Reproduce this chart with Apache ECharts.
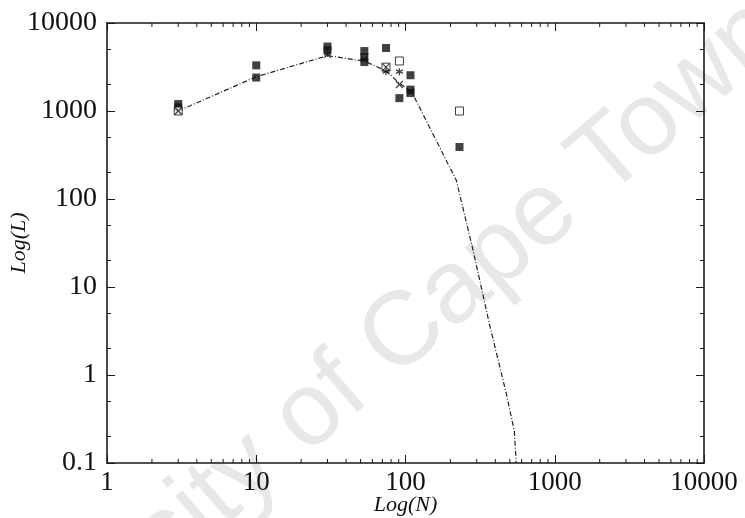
<!DOCTYPE html>
<html><head><meta charset="utf-8">
<script src="https://cdn.jsdelivr.net/npm/echarts@6/dist/echarts.min.js"></script>
<style>html,body{margin:0;padding:0;background:#fff}#c{width:745px;height:518px}</style>
</head><body><div id="c"></div>
<script>
// Data (N, L)
const modelLine = [[3,1000],[10,2450],[30,4250],[53,3700],[74,2850],[91,2070],[110,1650],[219,163],[281,28],[365,3.8],[474,0.61],[536,0.23],[552,0.1]];
const filledSquares = [[3,1200],[3,1100],[10,3300],[10,2400],[30,5400],[30,4900],[53,4800],[53,4100],[53,3600],[74,5200],[91,1400],[108,2550],[108,1750],[108,1600],[230,390]];
const openSquares = [[3,1000],[74,3150],[91,3700],[230,1000]];
const crosses = [[3,1000],[30,4400],[53,3900],[74,3150],[91,2000],[108,1650]];
const stars = [[30,4500],[74,2800],[91,2800]];
const xMinorTicks = [2,3,4,5,6,7,8,9,20,30,40,50,60,70,80,90,200,300,400,500,600,700,800,900,2000,3000,4000,5000,6000,7000,8000,9000];
const yMinorTicks = [0.2,0.5,2,5,20,50,200,500,2000,5000];
const xTickLabels = ['1','10','100','1000','10000'];
const yTickLabels = ['0.1','1','10','100','1000','10000'];

const serif = '"Liberation Serif","Times New Roman",serif';
const axisColor = '#1a1a1a';
const chart = echarts.init(document.getElementById('c'));

function fmt(v){ return String(+(+v).toPrecision(3)); }

function tickRenderer(isX){
  return function(params, api){
    const cs = params.coordSys;
    const len = 4;
    const v = api.value(isX ? 0 : 1);
    const style = {stroke: axisColor, lineWidth: 1};
    if (isX){
      const x = api.coord([v, 1])[0];
      return {type:'group', children:[
        {type:'line', shape:{x1:x,y1:cs.y+cs.height,x2:x,y2:cs.y+cs.height-len}, style},
        {type:'line', shape:{x1:x,y1:cs.y,x2:x,y2:cs.y+len}, style}
      ]};
    } else {
      const y = api.coord([1, v])[1];
      return {type:'group', children:[
        {type:'line', shape:{x1:cs.x,y1:y,x2:cs.x+len,y2:y}, style},
        {type:'line', shape:{x1:cs.x+cs.width,y1:y,x2:cs.x+cs.width-len,y2:y}, style}
      ]};
    }
  };
}

const crossPath = 'path://M0,0L10,10M10,0L0,10';
const starPath = 'path://M5,0L5,10M0.7,2.5L9.3,7.5M0.7,7.5L9.3,2.5';

const baseAxis = {
  type:'log', logBase:10,
  axisLine:{show:true, lineStyle:{color:axisColor, width:1.6}},
  axisTick:{show:true, inside:true, length:8, lineStyle:{color:axisColor, width:1}},
  splitLine:{show:false}
};

chart.setOption({
  animation:false,
  backgroundColor:'#fff',
  graphic:[{
    type:'text', z:-10, silent:true,
    x:345, y:385, rotation:0.71,
    style:{text:'University of Cape Town', fill:'#e8e8e8', font:'104px "Liberation Sans", Arial, sans-serif',
      textAlign:'center', textVerticalAlign:'middle'}
  }],
  grid:{left:107, right:41, top:23, bottom:55, containLabel:false, outerBoundsMode:'none'},
  xAxis:[
    Object.assign({}, baseAxis, {position:'bottom', min:1, max:10000,
      axisLabel:{show:true, color:'#111', fontFamily:serif, fontSize:27, margin:6,
        formatter:(v)=>{const s=fmt(v); return xTickLabels.includes(s)?s:'';}},
      name:'Log(N)', nameLocation:'middle', nameGap:31, nameMoveOverlap:false,
      nameTextStyle:{fontFamily:serif, fontStyle:'italic', fontSize:22, color:'#111'}}),
    Object.assign({}, baseAxis, {position:'top', min:1, max:10000, axisLabel:{show:false}})
  ],
  yAxis:[
    Object.assign({}, baseAxis, {position:'left', min:0.1, max:10000,
      axisLabel:{show:true, color:'#111', fontFamily:serif, fontSize:28, margin:10,
        formatter:(v)=>{const s=fmt(v); return yTickLabels.includes(s)?s:'';}},
      name:'Log(L)', nameLocation:'middle', nameGap:77, nameRotate:90, nameMoveOverlap:false,
      nameTextStyle:{fontFamily:serif, fontStyle:'italic', fontSize:22, color:'#111'}}),
    Object.assign({}, baseAxis, {position:'right', min:0.1, max:10000, axisLabel:{show:false}})
  ],
  series:[
    {type:'custom', xAxisIndex:0, yAxisIndex:0, renderItem:tickRenderer(true), clip:false,
      data:xMinorTicks.map(v=>[v,1]), silent:true, z:1},
    {type:'custom', xAxisIndex:0, yAxisIndex:0, renderItem:tickRenderer(false), clip:false,
      data:yMinorTicks.map(v=>[1,v]), silent:true, z:1},
    {type:'line', data:modelLine, showSymbol:false, symbol:'none', smooth:false,
      lineStyle:{color:'#222', width:1.2, type:[5,2,1,2]}, z:3},
    {type:'scatter', data:filledSquares, symbol:'rect', symbolSize:8,
      itemStyle:{color:'#111'}, z:4},
    {type:'scatter', data:openSquares, symbol:'rect', symbolSize:8,
      itemStyle:{color:'#fff', borderColor:'#111', borderWidth:1}, z:5},
    {type:'scatter', data:crosses, symbol:crossPath, symbolSize:7,
      itemStyle:{color:'none', borderColor:'#111', borderWidth:1.2}, z:6},
    {type:'scatter', data:stars, symbol:starPath, symbolSize:7,
      itemStyle:{color:'none', borderColor:'#111', borderWidth:1.3}, z:6}
  ]
});
</script></body></html>
